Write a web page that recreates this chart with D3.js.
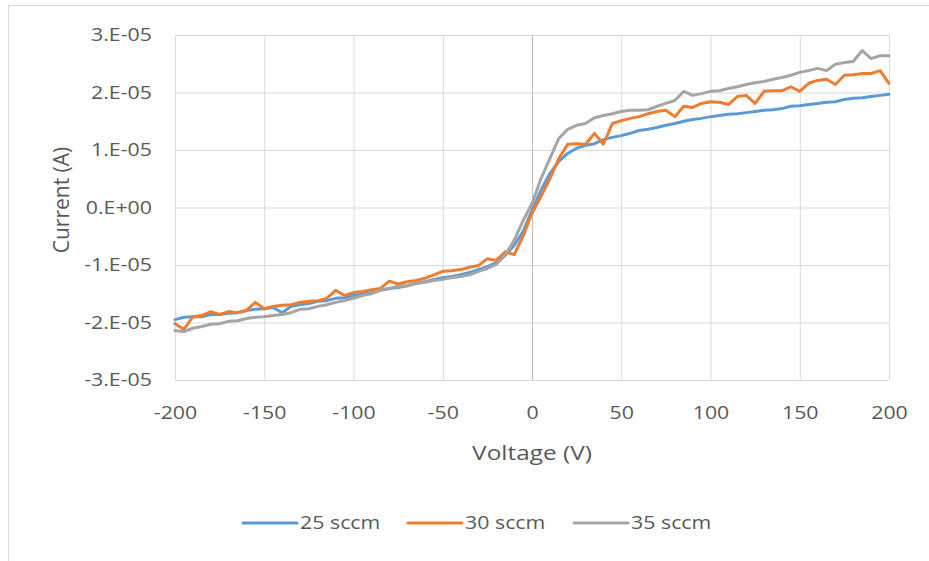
<!DOCTYPE html>
<html>
<head>
<meta charset="utf-8">
<script src="https://cdn.jsdelivr.net/npm/d3@7"></script>
<style>
  body { margin: 0; background: #fff; }
  text { font-family: "Open Sans", sans-serif; fill: #595959; }
</style>
</head>
<body>
<div id="chart"></div>
<script>
// voltage steps (V) shared by all three series
const voltage = [
  -200, -195, -190, -185, -180, -175, -170, -165, -160, -155,
  -150, -145, -140, -135, -130, -125, -120, -115, -110, -105,
  -100, -95, -90, -85, -80, -75, -70, -65, -60, -55,
  -50, -45, -40, -35, -30, -25, -20, -15, -10, -5,
  0, 5, 10, 15, 20, 25, 30, 35, 40, 45,
  50, 55, 60, 65, 70, 75, 80, 85, 90, 95,
  100, 105, 110, 115, 120, 125, 130, 135, 140, 145,
  150, 155, 160, 165, 170, 175, 180, 185, 190, 195,
  200
];

// currents in microamps
const current25 = [
  -19.5, -19.1, -19.0, -19.0, -18.6, -18.6, -18.4, -18.3, -17.9, -17.7,
  -17.6, -17.4, -18.3, -17.2, -16.9, -16.7, -16.3, -16.2, -15.8, -15.7,
  -15.3, -15.1, -14.8, -14.4, -14.1, -13.9, -13.6, -13.2, -12.9, -12.5,
  -12.2, -12.0, -11.7, -11.3, -10.8, -10.3, -9.6, -8.3, -6.6, -4.2,
  -0.5, 3.0, 5.9, 8.0, 9.4, 10.3, 10.8, 11.1, 11.8, 12.2,
  12.5, 12.9, 13.4, 13.6, 13.9, 14.3, 14.6, 15.0, 15.3, 15.5,
  15.8, 16.0, 16.2, 16.3, 16.5, 16.7, 16.9, 17.0, 17.2, 17.6,
  17.7, 17.9, 18.1, 18.3, 18.4, 18.8, 19.0, 19.1, 19.3, 19.5,
  19.7
];

const current30 = [
  -20.2, -21.2, -19.0, -18.8, -18.1, -18.6, -18.1, -18.3, -17.9, -16.5,
  -17.6, -17.2, -17.0, -16.9, -16.5, -16.3, -16.2, -15.8, -14.4, -15.3,
  -14.8, -14.6, -14.3, -14.1, -12.8, -13.3, -12.9, -12.7, -12.3, -11.7,
  -11.1, -11.0, -10.8, -10.4, -10.1, -8.9, -9.2, -7.7, -8.2, -5.0,
  -1.0, 1.9, 5.0, 8.5, 11.0, 11.1, 11.0, 12.9, 11.0, 14.6,
  15.1, 15.5, 15.8, 16.3, 16.7, 16.9, 15.8, 17.6, 17.4, 18.1,
  18.4, 18.3, 17.9, 19.3, 19.5, 18.1, 20.2, 20.3, 20.3, 21.0,
  20.2, 21.6, 22.1, 22.3, 21.4, 23.0, 23.1, 23.3, 23.3, 23.8,
  21.6
];

const current35 = [
  -21.4, -21.6, -21.0, -20.7, -20.3, -20.2, -19.8, -19.7, -19.3, -19.1,
  -19.0, -18.8, -18.6, -18.3, -17.7, -17.6, -17.2, -16.9, -16.5, -16.2,
  -15.8, -15.3, -15.0, -14.4, -14.1, -13.7, -13.6, -13.2, -13.0, -12.7,
  -12.5, -12.2, -12.0, -11.7, -11.1, -10.6, -9.9, -8.3, -5.7, -2.3,
  0.7, 5.0, 8.5, 12.0, 13.6, 14.3, 14.6, 15.6, 16.0, 16.3,
  16.7, 16.9, 16.9, 17.0, 17.6, 18.1, 18.6, 20.2, 19.5, 19.8,
  20.2, 20.3, 20.7, 21.0, 21.4, 21.7, 21.9, 22.3, 22.6, 23.0,
  23.5, 23.8, 24.2, 23.8, 24.9, 25.2, 25.4, 27.3, 25.9, 26.4,
  26.4
];

const seriesNames = ["25 sccm", "30 sccm", "35 sccm"];
const seriesColors = ["#5B9BD5", "#ED7D31", "#A5A5A5"];
const xTicks = [-200, -150, -100, -50, 0, 50, 100, 150, 200];
const yTicks = [-3e-5, -2e-5, -1e-5, 0, 1e-5, 2e-5, 3e-5];

const W = 929, H = 561;
const plot = { left: 175, right: 889, top: 35, bottom: 380 };
const sx = 1.22; // the reference text is stretched sideways

const svg = d3.select("#chart").append("svg").attr("width", W).attr("height", H);

// chart border (only top and left edges are visible in the picture)
svg.append("rect")
  .attr("x", 8.5).attr("y", 5.5)
  .attr("width", W + 10).attr("height", H + 10)
  .attr("fill", "none").attr("stroke", "#d9d9d9");

const x = d3.scaleLinear().domain([-200, 200]).range([plot.left, plot.right]);
const y = d3.scaleLinear().domain([-3e-5, 3e-5]).range([plot.bottom, plot.top]);

// Excel style labels, plain hyphen for negatives
const fmtY = (d) => {
  if (d === 0) return "0.E+00";
  const m = Math.round(d / 1e-5);
  return String(m) + ".E-05";
};
const fmtX = (d) => String(d);

function stretch(sel) {
  sel.selectAll("text")
    .attr("x", function () { return (+this.getAttribute("x") || 0) / sx; })
    .attr("transform", "scale(" + sx + ",1)");
}

// horizontal gridlines + y labels
const gy = svg.append("g")
  .attr("transform", "translate(" + plot.left + ",0)")
  .call(d3.axisLeft(y).tickValues(yTicks).tickFormat(fmtY)
    .tickSize(-(plot.right - plot.left)).tickPadding(23));
gy.select(".domain").remove();
gy.selectAll("line").attr("stroke", "#d9d9d9");
gy.selectAll("text").style("font-size", "17.5px");
stretch(gy);

// vertical gridlines + x labels
const gx = svg.append("g")
  .attr("transform", "translate(0," + plot.bottom + ")")
  .call(d3.axisBottom(x).tickValues(xTicks).tickFormat(fmtX)
    .tickSize(-(plot.bottom - plot.top)).tickPadding(27));
gx.select(".domain").remove();
gx.selectAll("line").attr("stroke", (d) => (d === 0 ? "#bfbfbf" : "#d9d9d9"));
gx.selectAll("text").style("font-size", "17.5px");
stretch(gx);

// series lines
const allCurrents = [current25, current30, current35];
const line = d3.line()
  .x((d, i) => x(voltage[i]))
  .y((d) => y(d * 1e-6));

svg.append("g")
  .selectAll("path")
  .data(allCurrents)
  .enter()
  .append("path")
  .attr("d", (d) => line(d))
  .attr("fill", "none")
  .attr("stroke", (d, i) => seriesColors[i])
  .attr("stroke-width", 3)
  .attr("stroke-linejoin", "round")
  .attr("stroke-linecap", "round");

// axis titles
svg.append("text")
  .attr("transform", "translate(532,453) scale(" + sx + ",1)")
  .attr("text-anchor", "middle")
  .attr("dy", "0.35em")
  .style("font-size", "20px")
  .text("Voltage (V)");

svg.append("text")
  .attr("transform", "translate(62,200) rotate(-90)")
  .attr("text-anchor", "middle")
  .attr("dy", "0.35em")
  .style("font-size", "21px")
  .text("Current (A)");

// legend
const legendX = [243, 408, 574];
const legend = svg.append("g");
seriesNames.forEach((name, i) => {
  legend.append("line")
    .attr("x1", legendX[i]).attr("x2", legendX[i] + 54)
    .attr("y1", 523).attr("y2", 523)
    .attr("stroke", seriesColors[i])
    .attr("stroke-width", 3)
    .attr("stroke-linecap", "round");
  legend.append("text")
    .attr("transform", "translate(" + (legendX[i] + 57) + ",523) scale(" + sx + ",1)")
    .attr("dy", "0.35em")
    .style("font-size", "17.5px")
    .text(name);
});
</script>
</body>
</html>
